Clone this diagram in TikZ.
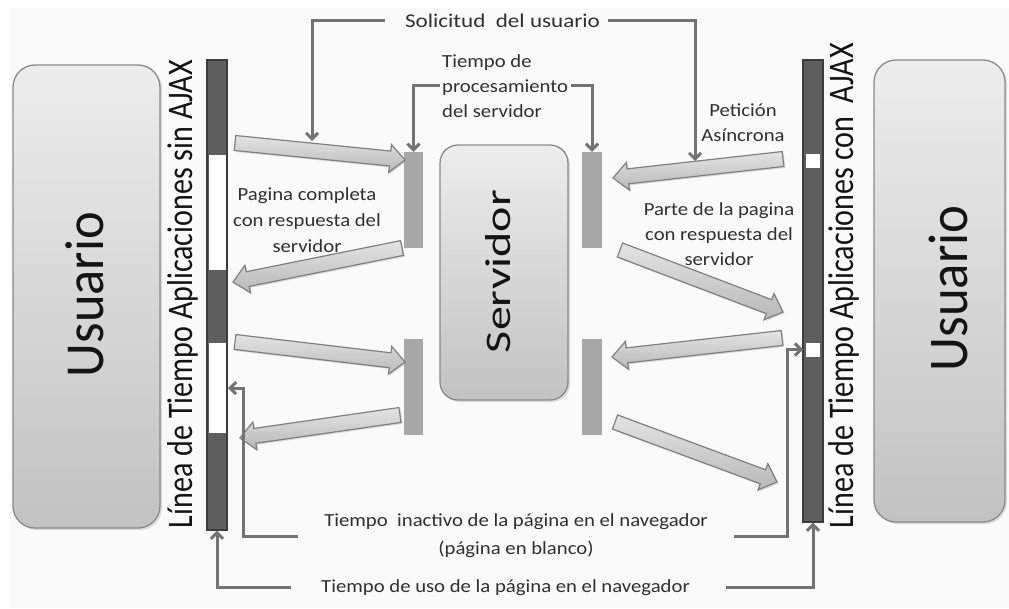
\documentclass[tikz,border=0pt]{standalone}
\usepackage{fontspec}
\usepackage{graphicx}
\setmainfont{Carlito}
\usetikzlibrary{arrows.meta,calc,shadows}
\definecolor{lnc}{HTML}{737373}
\definecolor{tdark}{HTML}{5E5E5E}
\definecolor{tedge}{HTML}{3C3C3C}
\definecolor{pbar}{HTML}{A8A8A8}
\definecolor{txt}{HTML}{303030}
\definecolor{boxedge}{HTML}{8A8A8A}
\definecolor{boxtop}{HTML}{EDEDED}
\definecolor{boxbot}{HTML}{C2C2C2}
\definecolor{arrtop}{HTML}{E4E4E4}
\definecolor{arrbot}{HTML}{B8B8B8}
\definecolor{arredge}{HTML}{808080}
\definecolor{bgc}{HTML}{FAFAFA}
\newcommand\hx[1]{\scalebox{1.12}[1]{#1}}
\newcommand\barrow[2]{%
  \coordinate (hb) at ($(#2)!15pt!(#1)$);
  \path[blockarrow] ($(#1)!7.5pt!90:(#2)$) -- ($(hb)!7.5pt!90:(#2)$) -- ($(hb)!14pt!90:(#2)$) -- (#2) -- ($(hb)!14pt!-90:(#2)$) -- ($(hb)!7.5pt!-90:(#2)$) -- ($(#1)!7.5pt!-90:(#2)$) -- cycle;}
\begin{document}
\begin{tikzpicture}[x=1pt,y=-1pt,
  conn/.style={draw=lnc, line width=3pt, -{Straight Barb[length=6pt,width=12pt]}},
  ubox/.style={draw=boxedge, line width=1.3pt, rounded corners=22pt, top color=boxtop, bottom color=boxbot,
     drop shadow={shadow xshift=2pt, shadow yshift=-2pt, opacity=0.25}},
  tline/.style={draw=tedge, line width=1.3pt, fill=tdark, inner sep=0pt},
  pbarst/.style={fill=pbar, inner sep=0pt},
  blockarrow/.style={draw=arredge, line width=1.2pt, top color=arrtop, bottom color=arrbot,
     drop shadow={shadow xshift=1.5pt, shadow yshift=-1.5pt, opacity=0.25}},
  lbl/.style={inner sep=0pt, text=txt, font=\fontsize{18.5}{26}\selectfont},
  rtext/.style={rotate=90, inner sep=0pt, text=black!92}]
\useasboundingbox (0,0) rectangle (1009,608);
\fill[white] (0,0) rectangle (1009,608);
\fill[bgc] (10,8) rectangle (1009,608);

% user boxes and server
\node[ubox, minimum width=147pt, minimum height=463pt] (uL) at (86.5,296.5) {};
\node[ubox, minimum width=131pt, minimum height=462pt] (uR) at (939.5,291) {};
\node[ubox, rounded corners=18pt, minimum width=128pt, minimum height=255pt] (srv) at (504,272.5) {};
\node[rtext, anchor=base] (uLt) at (103,294.5) {\resizebox{165pt}{\height}{\fontsize{55}{55}\selectfont Usuario}};
\node[rtext, anchor=base] (uRt) at (967,288.5) {\resizebox{166pt}{\height}{\fontsize{56}{56}\selectfont Usuario}};
\node[rtext, anchor=base] (srvt) at (510,271.5) {\resizebox{163pt}{\height}{\fontsize{36}{36}\selectfont Servidor}};

% timelines
\node[tline, minimum width=20pt, minimum height=470pt] (tlL) at (217,295) {};
\node[tline, minimum width=20pt, minimum height=462pt] (tlR) at (813,291) {};
\fill[white] (208.5,154.5) rectangle (225.5,270);
\fill[white] (208.5,343) rectangle (225.5,432.5);
\fill[white] (806,154) rectangle (820,168);
\fill[white] (806,343) rectangle (820,357);
\node[rtext, anchor=base] (tlLt) at (192,294) {\resizebox{468pt}{\height}{\fontsize{36}{36}\selectfont Línea de Tiempo Aplicaciones sin AJAX}};
\node[rtext, anchor=base] (tlRt) at (853,285.5) {\resizebox{485pt}{\height}{\fontsize{36}{36}\selectfont Línea de Tiempo Aplicaciones con\ \ AJAX}};

% server processing bars
\node[pbarst, minimum width=19pt, minimum height=96pt] (p1) at (413.5,200) {};
\node[pbarst, minimum width=19pt, minimum height=96pt] (p2) at (413.5,387) {};
\node[pbarst, minimum width=20pt, minimum height=96pt] (p3) at (592,200) {};
\node[pbarst, minimum width=20pt, minimum height=96pt] (p4) at (592,387) {};

% block arrows
\coordinate (a1s) at (235,143);  \coordinate (a1e) at (405,160);
\coordinate (a2s) at (402,248);  \coordinate (a2e) at (233,282);
\coordinate (a3s) at (235,342);  \coordinate (a3e) at (405,362);
\coordinate (a4s) at (400,415);  \coordinate (a4e) at (240,438);
\coordinate (a5s) at (783,159);  \coordinate (a5e) at (613,178);
\coordinate (a6s) at (620,250);  \coordinate (a6e) at (783,312);
\coordinate (a7s) at (782,338);  \coordinate (a7e) at (612,357);
\coordinate (a8s) at (615,422);  \coordinate (a8e) at (777,482);
\barrow{a1s}{a1e}
\barrow{a2s}{a2e}
\barrow{a3s}{a3e}
\barrow{a4s}{a4e}
\barrow{a5s}{a5e}
\barrow{a6s}{a6e}
\barrow{a7s}{a7e}
\barrow{a8s}{a8e}

% labels
\node[lbl, anchor=base] (sol) at (502.5,27) {\resizebox{195pt}{\height}{\fontsize{19.5}{24}\selectfont Solicitud\ \ del usuario}};
\node[lbl, align=left, anchor=north west, font=\fontsize{18.5}{25}\selectfont] (proc) at (442,54) {\hx{Tiempo de}\\\hx{procesamiento}\\\hx{del servidor}};
\node[lbl, align=center, font=\fontsize{18.5}{25}\selectfont] (pet) at (743,123) {\hx{Petición}\\\hx{Asíncrona}};
\node[lbl, align=center] (pag) at (307,220) {\hx{Pagina completa}\\\hx{con respuesta del}\\\hx{servidor}};
\node[lbl, align=center, font=\fontsize{18.5}{25}\selectfont] (par) at (719,234) {\hx{Parte de la pagina}\\\hx{con respuesta del}\\\hx{servidor}};
\node[lbl, align=center, font=\fontsize{18.5}{28}\selectfont] (inact) at (516,536) {\hx{Tiempo\ \ inactivo de la página en el navegador}\\\hx{(página en blanco)}};
\node[lbl, anchor=base] (use) at (505.5,592) {\hx{Tiempo de uso de la página en el navegador}};

% connector brackets
\coordinate (solL) at (312,141);
\coordinate (solR) at (695,161);
\coordinate (wL) at (228,388);
\coordinate (wR) at (803,349.5);
\draw[conn] ([xshift=-20pt]sol.west) -| (solL);
\draw[conn] ([xshift=8pt]sol.east) -| (solR);
\draw[conn] ([xshift=-2pt]proc.west) -| (p1.north);
\draw[conn] ([xshift=3pt]proc.east) -| (p3.north);
\draw[conn] ([xshift=-26pt]inact.west) -| ([xshift=15pt]wL) -- (wL);
\draw[conn] ([xshift=26pt]inact.east) -| ([xshift=-16pt]wR) -- (wR);
\draw[conn] ([xshift=-30pt]use.west) -| (tlL.south);
\draw[conn] ([xshift=36pt]use.east) -| (tlR.south);
\end{tikzpicture}
\end{document}
